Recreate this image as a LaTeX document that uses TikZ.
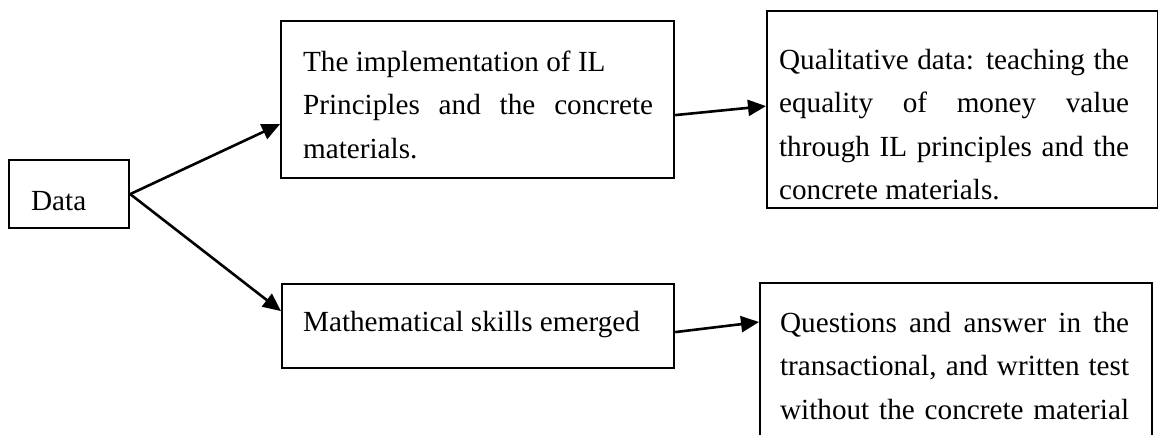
\documentclass[tikz,border=0pt]{standalone}
\usepackage{fontspec}
\setmainfont{Liberation Serif}
\usetikzlibrary{arrows.meta}
\newcommand\boxpar[6]{\parbox[t][#2][t]{#1}{\noindent\tolerance=9999\hbadness=10000\leftskip=#3\relax\rightskip=#4\relax\rule{0pt}{#5}#6}}
\begin{document}
\begin{tikzpicture}[x=1pt,y=-1pt,
  box/.style={draw, line width=2.2pt, inner sep=0pt, anchor=north west,
    font=\fontsize{29.2pt}{43.5pt}\selectfont},
  conn/.style={line width=2.6pt, -{Triangle[length=18pt,width=16pt]}}]
\useasboundingbox (0,0) rectangle (1158,435);
\clip (0,0) rectangle (1158,435);
\node[box] (data) at (8,159) {\boxpar{120pt}{68pt}{22pt}{0pt}{50pt}{Data}};
\node[box] (b2) at (280,20) {\boxpar{393pt}{157pt}{22pt}{21pt}{50pt}{The implementation of IL\newline Principles and the concrete\linebreak materials.}};
\node[box] (b3) at (766,10) {\boxpar{391pt}{197pt}{12pt}{29pt}{58pt}{Qualitative data: teaching the\linebreak equality of money value\linebreak through IL principles and the\linebreak concrete materials.}};
\node[box] (b4) at (281,283) {\boxpar{392pt}{84pt}{21pt}{0pt}{47pt}{Mathematical skills emerged}};
\node[box] (b5) at (759,282) {\boxpar{392pt}{180pt}{20pt}{23pt}{49pt}{\parfillskip=0pt Questions and answer in the\linebreak transactional, and written test\linebreak without the concrete material}};
\draw[conn] (data.east) -- ([yshift=-24.5pt]b2.west);
\draw[conn] (data.east) -- ([yshift=15pt]b4.west);
\draw[conn] ([yshift=-15.5pt]b2.east) -- ([yshift=3.5pt]b3.west);
\draw[conn] ([yshift=-6pt]b4.east) -- ([yshift=-40pt]b5.north west);
\end{tikzpicture}
\end{document}
